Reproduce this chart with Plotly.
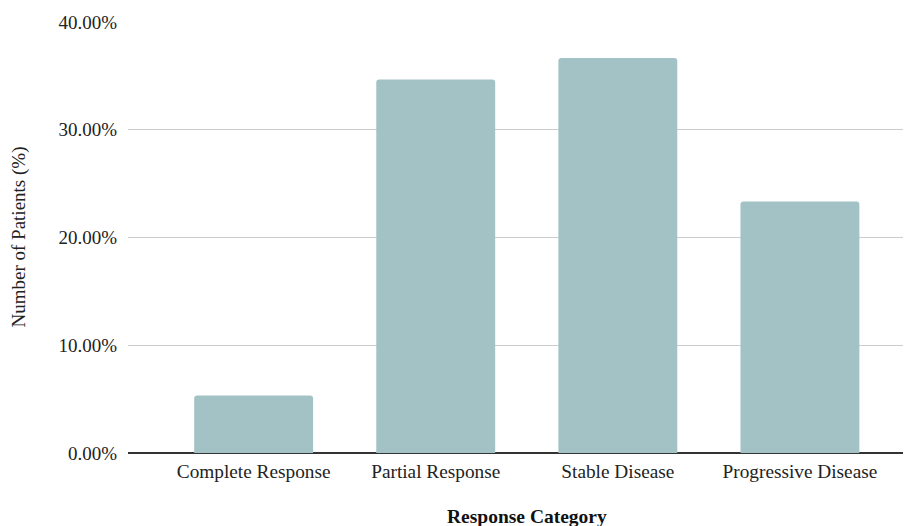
import plotly.graph_objects as go

categories = ["Complete Response", "Partial Response", "Stable Disease", "Progressive Disease"]
values = [5.33, 34.67, 36.67, 23.33]
y_ticks = [0, 10, 20, 30, 40]
y_tick_labels = ["0.00%", "10.00%", "20.00%", "30.00%", "40.00%"]

FONT = "Liberation Serif, Times New Roman, serif"

fig = go.Figure(go.Bar(
    x=categories, y=values, marker_color="#a3c2c6", width=0.653,
    marker_line_width=0,
))
fig.update_layout(
    width=903, height=518,
    margin=dict(l=120, r=0, t=14, b=73, autoexpand=False),
    paper_bgcolor="white", plot_bgcolor="white",
    font=dict(family=FONT, size=19, color="#222222"),
    barcornerradius=3,
    showlegend=False,
    xaxis=dict(
        range=[-0.69, 3.61], showgrid=False, ticks="", ticklabelstandoff=5,
        automargin=False,
        tickfont=dict(size=19.3, color="#222222"),
    ),
    yaxis=dict(
        range=[0, 40], tickvals=y_ticks, ticktext=y_tick_labels,
        showgrid=True, gridcolor="#cccccc", gridwidth=1,
        zeroline=True, zerolinecolor="#333333", zerolinewidth=1.5,
        ticks="", ticklabelstandoff=10, automargin=False,
        tickfont=dict(size=19, color="#222222"),
    ),
    annotations=[
        dict(text="<b>Response Category</b>", xref="paper", yref="paper",
             x=0.5, xshift=7, y=0, yshift=-63, xanchor="center", yanchor="middle",
             showarrow=False, font=dict(family=FONT, size=19.5, color="#111111")),
        dict(text="Number of Patients (%)", xref="paper", yref="paper",
             x=0, xshift=-110, y=0.5, textangle=-90, xanchor="center", yanchor="middle",
             showarrow=False, font=dict(family=FONT, size=19, color="#222222")),
    ],
)
fig.write_html("out.html")
